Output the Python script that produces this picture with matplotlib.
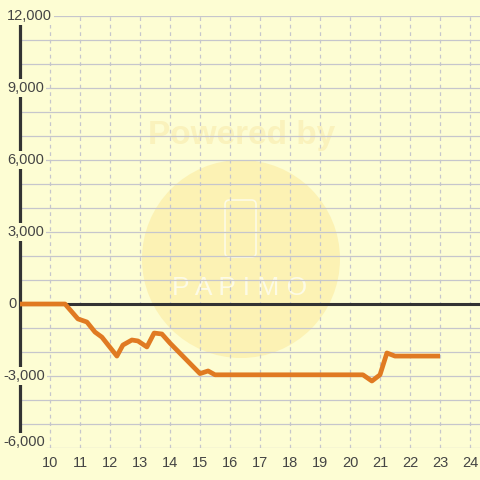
import matplotlib
matplotlib.use('Agg')
import matplotlib.pyplot as plt
from matplotlib import transforms, patches

plt.rcParams['font.family'] = ['Liberation Sans', 'DejaVu Sans']

# ---- data ----
hours = [9.0, 10.5, 10.73, 10.93, 11.23, 11.5, 11.73, 12.23, 12.43, 12.73, 12.93,
         13.23, 13.47, 13.73, 14.0, 15.0, 15.27, 15.5, 20.43, 20.73, 21.0, 21.23,
         21.5, 23.0]
values = [0, 0, -330, -620, -750, -1170, -1380, -2170, -1710, -1500, -1540,
          -1790, -1210, -1250, -1630, -2900, -2790, -2950, -2950, -3210, -2950,
          -2040, -2170, -2170]
x_ticks = list(range(10, 25))
x_tick_labels = [str(v) for v in x_ticks]
y_ticks = [12000, 9000, 6000, 3000, 0, -3000, -6000]
y_tick_labels = ['12,000', '9,000', '6,000', '3,000', '0', '-3,000', '-6,000']
y_grid = list(range(-6000, 12001, 1000))

BG = '#fdfdd3'
GRID = '#c6c6cc'
DARK = '#333333'
ORANGE = '#e07a22'
TEXT = '#444444'

fig = plt.figure(figsize=(4.8, 4.8), dpi=100)
fig.patch.set_facecolor(BG)
ax = fig.add_axes([20/480, 32/480, 460/480, 432/480])
ax.set_facecolor(BG)
ax.set_xlim(9, 9 + 460/30)
ax.set_ylim(-6000, 12000)
for s in ['top', 'right', 'bottom']:
    ax.spines[s].set_visible(False)
ax.spines['left'].set_color(DARK)
ax.spines['left'].set_linewidth(2.3)
ax.spines['left'].set_zorder(4)

# watermark
ax.add_patch(patches.Ellipse((0.4804, 0.4375), 0.4304, 0.4583, transform=ax.transAxes,
                             fc='#fcf2b4', ec='none', zorder=0.5))
ax.text(0.481, 0.7245, 'Powered by', transform=ax.transAxes, ha='center', va='center',
        fontsize=24, fontweight='bold', color='#faf2bc', zorder=0.6)
ax.add_patch(patches.FancyBboxPatch((0.4457, 0.442), 0.0674, 0.132, transform=ax.transAxes,
                                    boxstyle='round,pad=0,rounding_size=0.01',
                                    fc='none', ec='#fdfbe6', lw=1.2, zorder=0.6))
ax.text(0.478, 0.3704, 'P A P I M O', transform=ax.transAxes, ha='center', va='center',
        fontsize=19, fontweight='light', color='#fdfbe6', zorder=0.6)

# grid
for y in y_grid:
    ax.axhline(y, color=GRID, lw=0.9, zorder=1)
for x in x_ticks:
    ax.axvline(x, color=GRID, lw=0.9, ls=(0, (3, 3)), zorder=1)

ax.axhline(0, color=DARK, lw=2.2, zorder=3)
ax.plot(hours, values, color=ORANGE, lw=3.4, zorder=5,
        solid_joinstyle='round', solid_capstyle='butt')

ax.set_xticks(x_ticks)
ax.set_xticklabels(x_tick_labels)
ax.tick_params(axis='x', length=0, pad=6, labelsize=10.5, labelcolor=TEXT)
ax.set_yticks([])

trans = transforms.blended_transform_factory(fig.transFigure, ax.transData)
for v, lab in zip(y_ticks, y_tick_labels):
    xpos = 3 if v < 0 else (8 if v == 0 else 7)
    ypos = v + 250 if v == -6000 else v
    ax.text(xpos/480, ypos, lab, transform=trans, ha='left', va='center',
            fontsize=10.5, color=TEXT, zorder=6,
            bbox=dict(boxstyle='square,pad=0.15', fc=BG, ec='none'))

fig.savefig('out.png', dpi=100, facecolor=BG)
